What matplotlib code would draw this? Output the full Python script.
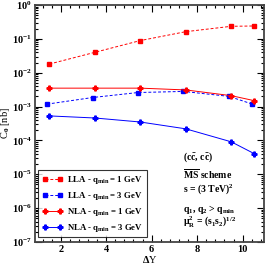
import numpy as np
import matplotlib
matplotlib.use("Agg")
import matplotlib.pyplot as plt
from matplotlib.ticker import LogLocator, MultipleLocator, NullFormatter

plt.rcParams['font.family'] = ['Liberation Serif', 'DejaVu Serif']
plt.rcParams['font.weight'] = 'bold'
plt.rcParams['mathtext.fontset'] = 'custom'
plt.rcParams['mathtext.rm'] = 'Liberation Serif:bold'
plt.rcParams['mathtext.it'] = 'Liberation Serif:bold'
plt.rcParams['mathtext.bf'] = 'Liberation Serif:bold'

dy = [1.5, 3.5, 5.5, 7.5, 9.5, 10.5]
dy_shift = [1.4, 3.4, 5.4, 7.4, 9.4, 10.4]
lla_1 = [0.018, 0.040, 0.089, 0.163, 0.235, 0.24]
lla_3 = [0.00118, 0.00185, 0.0026, 0.0028, 0.0020, 0.0012]
nla_1 = [0.0035, 0.0035, 0.0035, 0.0031, 0.0021, 0.0015]
nla_3 = [0.00053, 0.00046, 0.00035, 0.00022, 9.1e-5, 4.1e-5]
xticks = [2, 4, 6, 8, 10]

fig = plt.figure(figsize=(2.72, 2.65), dpi=100)
ax = fig.add_axes([35/272, 1-242/265, 229/272, 237/265])

ax.plot(dy, lla_1, color='red', ls='--', lw=0.7, marker='s', ms=3, dashes=(3, 2),
        label=r'LLA - q$_{\rm min}$ = 1 GeV')
ax.plot(dy_shift, lla_3, color='blue', ls='--', lw=0.7, marker='s', ms=3, dashes=(3, 2),
        label=r'LLA - q$_{\rm min}$ = 3 GeV')
ax.plot(dy, nla_1, color='red', ls='-', lw=0.7, marker='P', ms=3.5,
        label=r'NLA - q$_{\rm min}$ = 1 GeV')
ax.plot(dy, nla_3, color='blue', ls='-', lw=0.7, marker='P', ms=3.5,
        label=r'NLA - q$_{\rm min}$ = 3 GeV')

ax.set_yscale('log')
ax.set_ylim(1e-7, 1)
ax.set_xlim(0.87, 10.94)
ax.set_xticks(xticks)
ax.xaxis.set_minor_locator(MultipleLocator(0.4))
ax.yaxis.set_major_locator(LogLocator(base=10, numticks=20))
ax.yaxis.set_minor_locator(LogLocator(base=10, subs=np.arange(2, 10), numticks=20))
ax.yaxis.set_minor_formatter(NullFormatter())
ax.tick_params(which='both', direction='in', top=True, right=True, labelsize=7.5, width=0.8)
ax.tick_params(which='major', length=5, pad=2)
ax.tick_params(which='minor', length=2.5)
for s in ax.spines.values():
    s.set_linewidth(1.3)
    s.set_color('#444444')

ax.set_xlabel(r'$\Delta$Y', fontsize=7.5, labelpad=0)
ax.set_ylabel(r'C$_0$ [nb]', fontsize=7.5, labelpad=0)

leg = ax.legend(loc='lower left', bbox_to_anchor=(0.015, 0.02), fontsize=6.3, numpoints=2,
                frameon=True, fancybox=False, edgecolor='black', handlelength=2.4,
                borderpad=0.4, labelspacing=0.45, handletextpad=0.5, borderaxespad=0)
leg.get_frame().set_linewidth(0.8)

tx = 183/272
kw = dict(fontsize=7, ha='left', va='center')
fig.text(tx, 1-157/265, r'(c$\bar{\rm c}$, c$\bar{\rm c}$)', **kw)
fig.text(tx, 1-173.7/265, r'$\overline{\rm MS}$ scheme', **kw)
fig.text(tx, 1-189/265, r's = (3 TeV)$^2$', **kw)
fig.text(tx, 1-209/265, r'q$_1$, q$_2$ > q$_{\rm min}$', **kw)
fig.text(tx, 1-222/265, r'$\mu_R^2$ = (s$_1$s$_2$)$^{1/2}$', **kw)

fig.savefig('out.png', dpi=100)
